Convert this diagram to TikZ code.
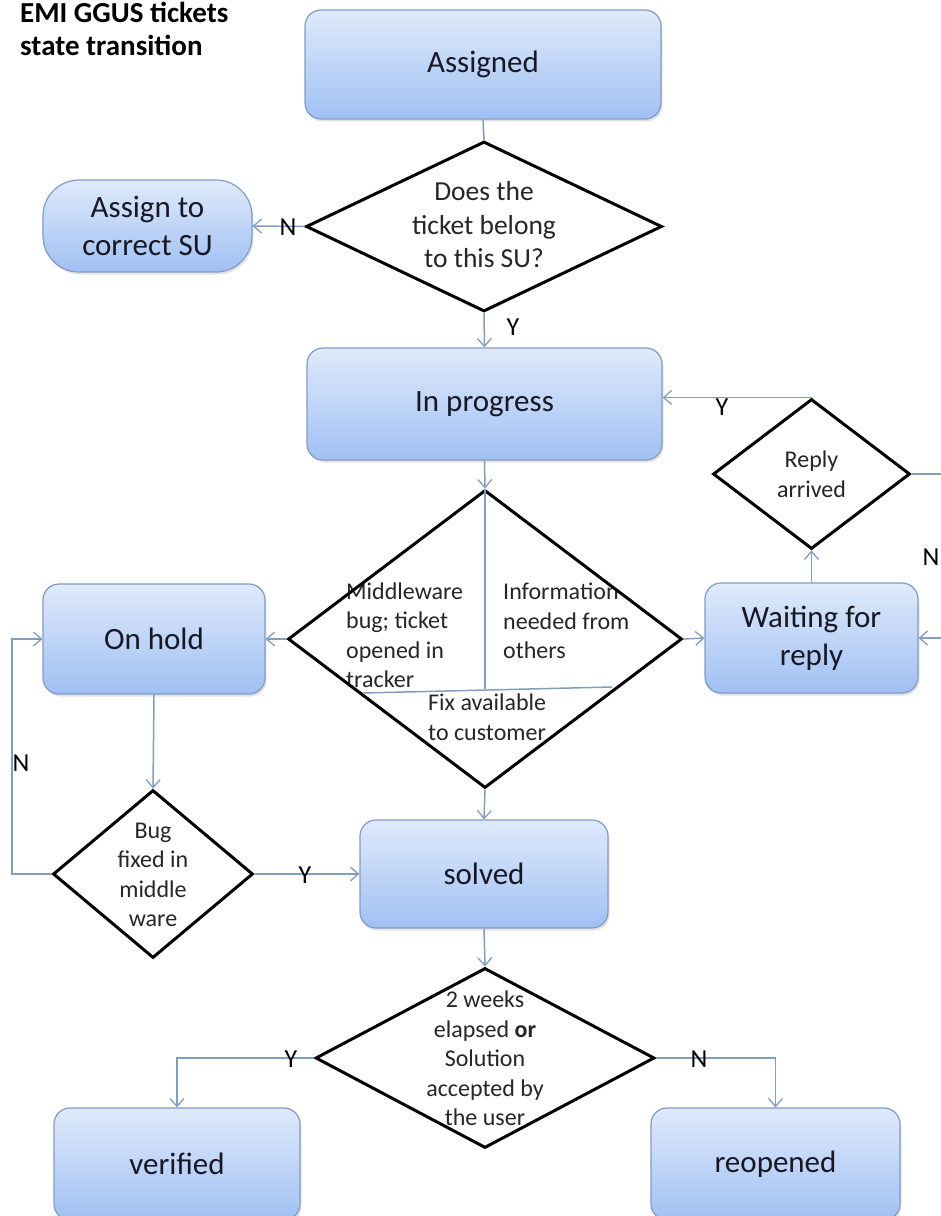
\documentclass[tikz,border=0pt]{standalone}
\usepackage{fontspec}
\setmainfont{Carlito}
\usetikzlibrary{shapes.geometric,arrows.meta,shadows}
\definecolor{boxtop}{RGB}{223,234,251}
\definecolor{boxbot}{RGB}{160,192,243}
\definecolor{boxline}{RGB}{130,156,196}
\definecolor{connc}{RGB}{128,158,192}
\definecolor{txt}{RGB}{24,24,36}
\definecolor{dtxt}{RGB}{38,38,38}
\tikzset{
 statebox/.style={rectangle, rounded corners=16pt, draw=boxline, line width=1.2pt,
   top color=boxtop, bottom color=boxbot, inner sep=0pt,
   font=\fontsize{31}{38}\selectfont, text=txt, align=center,
   drop shadow={opacity=0.22,shadow xshift=1.5pt,shadow yshift=-2.5pt}},
 decision/.style={diamond, draw=black, line width=3pt, inner sep=0pt},
 dtext/.style={font=\fontsize{24}{29.5}\selectfont, text=dtxt, align=center, inner sep=0pt},
 conn/.style={draw=connc, line width=1.5pt},
 arr/.style={conn, -{Straight Barb[length=8pt,width=14pt,line width=1.3pt]}},
 lbl/.style={font=\fontsize{26}{30}\selectfont, text=black, inner sep=0pt},
 ttl/.style={font=\fontsize{29}{34}\bfseries\selectfont, text=black, inner sep=0pt, anchor=base west},
}
\begin{document}
\begin{tikzpicture}[x=1pt,y=-1pt]
\useasboundingbox (0,0) rectangle (941,1216);
\clip (0,0) rectangle (941,1216);
\fill[white] (0,0) rectangle (941,1216);

% title
\node[ttl] (title1) at (20,22) {EMI GGUS tickets};
\node[ttl] (title2) at (20,55) {state transition};

% state boxes
\node[statebox, minimum width=356pt, minimum height=109pt] (assigned) at (483,64.5) {Assigned};
\node[statebox, rounded corners=36pt, minimum width=209pt, minimum height=92pt] (assignsu) at (147.5,226) {Assign to\\correct SU};
\node[statebox, minimum width=355pt, minimum height=112pt] (inprog) at (484.5,404) {In progress};
\node[statebox, minimum width=222pt, minimum height=110pt] (onhold) at (154,639) {On hold};
\node[statebox, minimum width=213pt, minimum height=110pt] (wait) at (811.5,638) {Waiting for\\reply};
\node[statebox, minimum width=248pt, minimum height=108pt] (solved) at (484,874) {solved};
\node[statebox, minimum width=246pt, minimum height=112pt] (verified) at (177,1164) {verified};
\node[statebox, minimum width=249pt, minimum height=112pt] (reopened) at (775.5,1164) {reopened};

% texts inside the big decision (drawn under its border)
\node[dtext, align=left, anchor=west] (mwtext) at (346,635) {Middleware\\bug; ticket\\opened in\\tracker};
\node[dtext, align=left, anchor=west] (infotext) at (503,621) {Information\\needed from\\others};
\node[dtext, align=left, anchor=west] (fixtext) at (428,717) {Fix available\\to customer};

% decisions
\node[decision, minimum width=356pt, minimum height=170pt] (d1) at (484,226.5) {};
\node[dtext, font=\fontsize{27.5}{33.5}\selectfont] (d1t) at (484,225) {Does the\\ticket belong\\to this SU?};
\node[decision, minimum width=394pt, minimum height=298pt] (big) at (485,639) {};
\node[decision, minimum width=197pt, minimum height=150pt] (reply) at (811.5,474) {};
\node[dtext] (replyt) at (reply.center) {Reply\\arrived};
\node[decision, minimum width=200pt, minimum height=168pt] (bug) at (153,874) {};
\node[dtext] (bugt) at (153,875) {Bug\\fixed in\\middle\\ware};
\node[decision, minimum width=339pt, minimum height=180pt] (final) at (485,1058) {};
\node[dtext] (finalt) at (485,1058.5) {2 weeks\\elapsed \textbf{or}\\Solution\\accepted by\\the user};

% helper coordinates
\coordinate (split) at (485,689);
\coordinate (hl) at (363,693);
\coordinate (hr) at (612,687);
\coordinate (rx) at (960,474);
\coordinate (lx) at (12,874);

% connectors
\draw[conn] (assigned.south) -- (d1.north);
\draw[arr] (d1.west) -- (assignsu.east);
\draw[arr] (d1.south) -- (inprog.north);
\draw[arr] (reply.north) -- (reply.north -| inprog.east);
\draw[arr] (inprog.south) -- (big.north);
\draw[conn] (big.north) -- (split);
\draw[conn] (hl) -- (hr);
\draw[arr] (big.west) -- (onhold.east);
\draw[arr] (big.east) -- (wait.west);
\draw[arr] (big.south) -- (solved.north);
\draw[arr] (wait.north) -- (reply.south);
\draw[arr] (reply.east) -- (rx) |- (wait.east);
\draw[arr] (onhold.south) -- (bug.north);
\draw[arr] (bug.east) -- (solved.west);
\draw[arr] (bug.west) -- (lx) |- (onhold.west);
\draw[arr] (solved.south) -- (final.north);
\draw[arr] (final.west) -| (verified.north);
\draw[arr] (final.east) -| (reopened.north);

% labels
\node[lbl] (n1) at (288,227) {N};
\node[lbl] (y1) at (513,327) {Y};
\node[lbl] (y2) at (722,407) {Y};
\node[lbl] (n2) at (931,557) {N};
\node[lbl] (n3) at (21,763) {N};
\node[lbl] (y3) at (305,875) {Y};
\node[lbl] (y4) at (291,1059) {Y};
\node[lbl] (n4) at (699,1059) {N};
\end{tikzpicture}
\end{document}
